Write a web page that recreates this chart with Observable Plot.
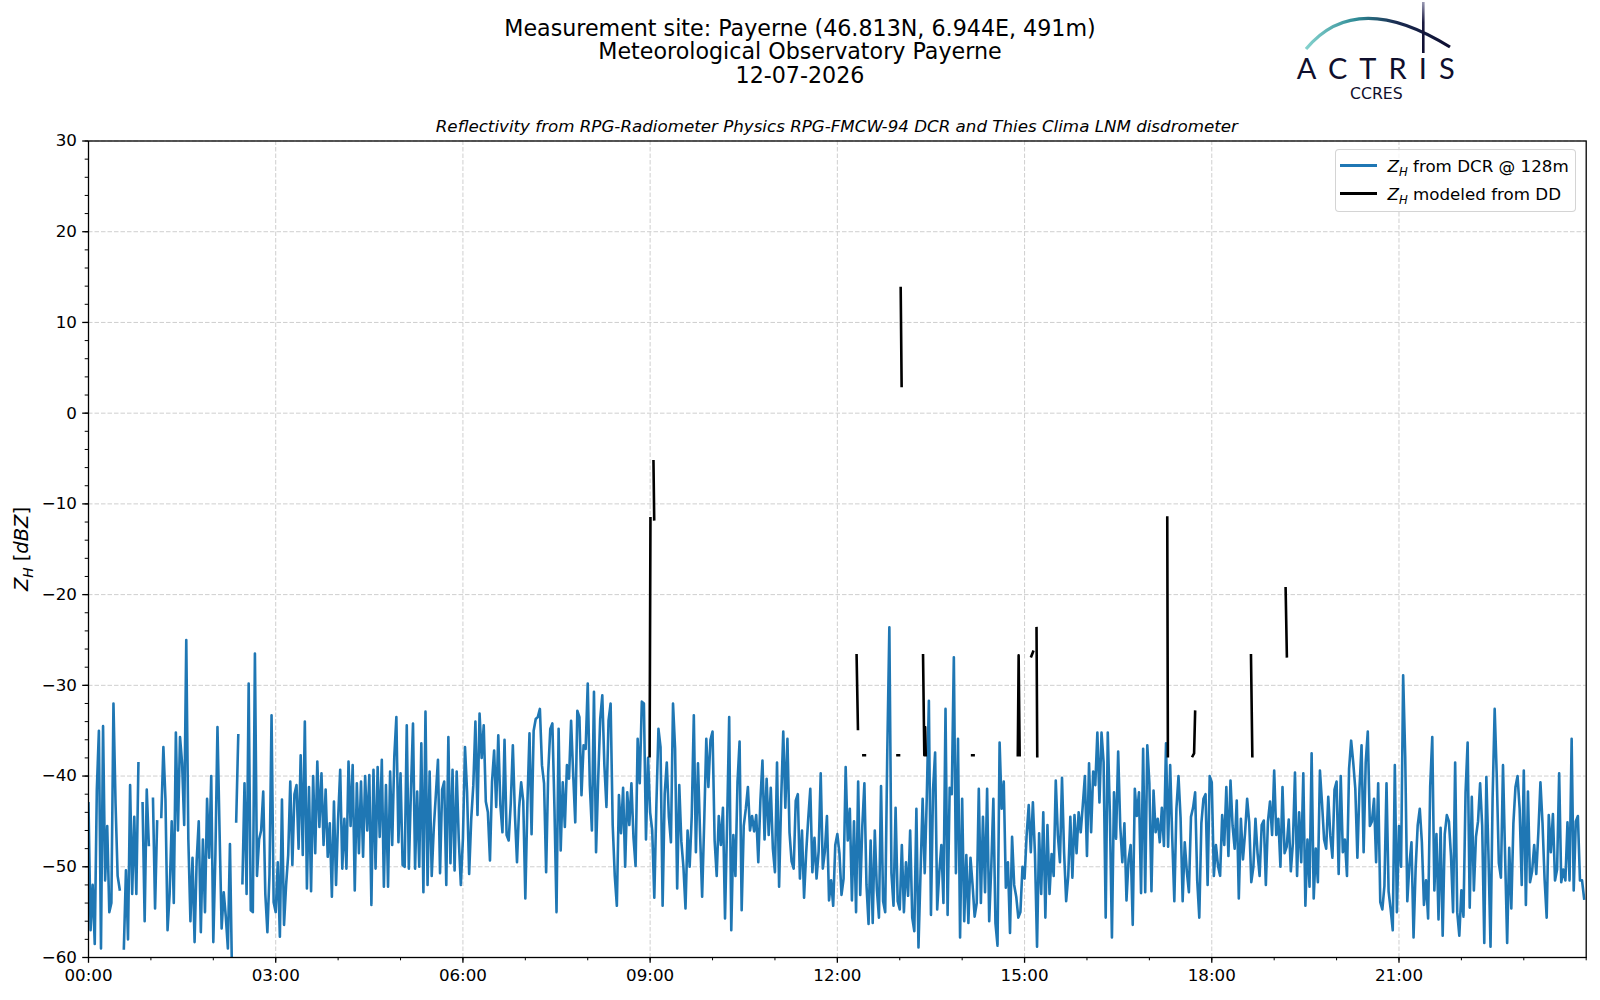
<!DOCTYPE html>
<html>
<head>
<meta charset="utf-8">
<script src="https://cdn.jsdelivr.net/npm/d3@7"></script>
<script src="https://cdn.jsdelivr.net/npm/@observablehq/plot@0.6"></script>
<style>
  body { margin: 0; background: #fff; font-family: "DejaVu Sans", sans-serif; color: #000; }
  #wrap { position: relative; width: 1600px; height: 1000px; overflow: hidden; background: #fff; }
  #header { position: relative; width: 1600px; height: 132px; z-index: 2; }
  .title { position: absolute; left: 0; top: 16.8px; width: 1600px; text-align: center; font-size: 22.2px; line-height: 23.5px; }
  .subtitle { position: absolute; left: 88px; width: 1497.7px; top: 115.5px; text-align: center; font-size: 16.7px; font-style: italic; line-height: 20px; white-space: nowrap; }
  #logo { position: absolute; left: 1250px; top: 0; }
  #ylabel { position: absolute; left: 23px; top: 549px; transform: translate(-50%, -50%) rotate(-90deg); font-size: 19.5px; white-space: nowrap; z-index: 3; }
  #ylabel sub, #legend sub { font-size: 0.7em; vertical-align: -0.3em; }
  #legend { position: absolute; left: 1335px; top: 148.5px; width: 241px; height: 63px; box-sizing: border-box; border: 1px solid rgba(204,204,204,0.85); border-radius: 4px; background: rgba(255,255,255,0.8); font-size: 16.7px; z-index: 3; }
  .lrow { position: absolute; left: 0; height: 20px; line-height: 20px; white-space: nowrap; }
  .lrow .swatch { position: absolute; left: 4px; top: 8.5px; width: 37px; height: 3px; }
  .lrow .ltxt { position: absolute; left: 51.5px; top: 0; }
  #chart { position: relative; z-index: 1; }
</style>
</head>
<body>
<div id="wrap">
  <div id="header">
    <div class="title">Measurement site: Payerne (46.813N, 6.944E, 491m)<br>Meteorological Observatory Payerne<br>12-07-2026</div>
    <svg id="logo" width="220" height="110" viewBox="1250 0 220 110">
      <defs>
        <linearGradient id="arcGrad" x1="1306" y1="0" x2="1450" y2="0" gradientUnits="userSpaceOnUse">
          <stop offset="0" stop-color="#84d2cd"/>
          <stop offset="0.35" stop-color="#2f8b96"/>
          <stop offset="0.62" stop-color="#1b2d52"/>
          <stop offset="1" stop-color="#0d0d30"/>
        </linearGradient>
        <linearGradient id="vGrad" x1="0" y1="2" x2="0" y2="53" gradientUnits="userSpaceOnUse">
          <stop offset="0" stop-color="#9a9ab4"/>
          <stop offset="0.4" stop-color="#1a1a40"/>
          <stop offset="1" stop-color="#0d0d30"/>
        </linearGradient>
      </defs>
      <path d="M1306,49 Q1356,-11.4 1450,47" fill="none" stroke="url(#arcGrad)" stroke-width="3.2"/>
      <line x1="1423.3" y1="2" x2="1423.3" y2="53" stroke="url(#vGrad)" stroke-width="2.6"/>
      <text x="1296.7" y="78.5" font-family="Lato, 'DejaVu Sans', sans-serif" font-size="29" fill="#0f0f2d" textLength="158" lengthAdjust="spacing">ACTRIS</text>
      <text x="1350" y="99.3" font-family="'DejaVu Sans', sans-serif" font-size="16.5" fill="#0f0f2d" textLength="52.7" lengthAdjust="spacingAndGlyphs">CCRES</text>
    </svg>
    <div class="subtitle">Reflectivity from RPG-Radiometer Physics RPG-FMCW-94 DCR and Thies Clima LNM disdrometer</div>
  </div>
  <div id="chart"></div>
  <div id="ylabel"><i>Z</i><sub><i>H</i></sub> [<i>dBZ</i>]</div>
  <div id="legend">
    <div class="lrow" style="top:6px"><div class="swatch" style="background:#1f77b4"></div><div class="ltxt"><i>Z</i><sub><i>H</i></sub> from DCR @ 128m</div></div>
    <div class="lrow" style="top:34px"><div class="swatch" style="background:#000"></div><div class="ltxt"><i>Z</i><sub><i>H</i></sub> modeled from DD</div></div>
  </div>
</div>
<script>
// ---- DCR reflectivity at 128 m, one value every 2 minutes, per 3-hour block (null = no data)
const dcrStepMinutes = 2;
const dcr0003 = [-43,-57,-52,-58.5,-41.5,-35,-59,-34.5,-51.5,-45.5,-55,-54,-32,-43,-51,-52.5,null,-59,-50.4,-58,
  -41,-53,-44.5,-53,-38.6,null,-43,-56,-41.5,-47.6,null,-42.5,-54.6,-45,null,-44.5,-36.8,-42.6,-57,-53,
  -45,-54,-35.2,-46,-35.7,-38.6,-45.4,-25,-47,-56,-49,-58.3,-49.3,-45,-57.2,-47,-55,-42.5,-49,-40,
  -58.3,-48.7,-34.6,-46,-56.8,-52.8,-55.5,-59,-47.5,-62,null,-45,-35.5,null,-51.8,-40.8,-53,-29.8,-54.8,-55,
  -26.5,-51,-47,-46,-41.7,-53,-57.2,-50.9,-33.3,-53.9];
const dcr0306 = [-55,-49.5,-57.7,-42.6,-56.4,-52,-48.7,-40.6,-49.8,-42,-41,-48,-37.7,-48.7,-34,-52.4,-41.2,-52.7,-40,-48.5,
  -38.4,-45.6,-39.7,-47.6,-41.5,-48.9,-45.2,-53.3,-42.8,-52,-44.7,-39.3,-50.2,-44.7,-50.2,-38.4,-45.5,-38.8,-52.6,-40.8,
  -48.5,-40.6,-48.9,-40,-46,-39.9,-54.2,-39.3,-50.2,-39,-46.7,-38.2,-52.2,-41,-52.2,-39.5,-47.6,-37.9,-33.5,-47.3,
  -39.7,-49.8,-50,-34.4,-50.2,-41.7,-34.2,-50.2,-41.7,-50,-36.4,-52.8,-32.9,-52,-39.5,-51,-45.7,-42,-38.2,-50.7,
  -41.5,-40.6,-52,-35.7,-49.6,-39.3,-50.4,-39.5,-47,-52];
const dcr0609 = [-46.9,-36.8,-41.8,-50.8,-44.7,-41,-34,-44.3,-33.1,-38,-34.4,-42.8,-44,-49.3,-40.6,-37.2,-43.4,-35.5,-43.2,-46.2,
  -36,-46.5,-47.1,-43,-36.6,-44.3,-49.5,-43.5,-40.7,-42.8,-53.5,-43,-35.3,-46.4,-35,-33.7,-33.5,-32.6,-38.8,-40.8,
  -50.6,-39.6,-34.8,-34.2,-43.5,-55,-34.8,-48.2,-40.7,-45.6,-38.8,-40.3,-33.9,-39.8,-45.1,-32.8,-33.5,-42.1,-36.6,-37,
  -29.8,-41,-46,-30.7,-48.4,-40.5,-33.7,-31.1,-38.8,-43.4,-33.9,-32,-45.4,-51,-54.3,-42.1,-46.3,-41.3,-50,-41.8,
  -45.4,-40.8,-46.8,-49.9,-35.9,-40.8,-31.8,-32,-47,-38];
const dcr0912 = [-44,-46,-53.4,-43.2,-34.8,-36.8,-54.3,-42,-38.5,-44.5,-47.3,-32,-37,-52.4,-41,-47.2,-50,-54.6,-46,-50,
  -44.4,-33.3,-48.4,-38.6,-46.3,-53.3,-45,-35.9,-41.2,-36,-35.1,-47.1,-51,-44.4,-47.6,-43.5,-55.7,-45.2,-33.5,-57,
  -46.5,-51,-40.7,-36.2,-54.8,-45.5,-43.6,-41.2,-46,-44.4,-46.1,-44.3,-49.5,-42.7,-38.3,-47,-40.3,-46.5,-41.3,-48,
  -50.6,-38.5,-52.2,-42.5,-35.1,-43.5,-35.9,-46.2,-49.4,-50.2,-42.7,-42,-51.3,-46,-53.4,-48.5,-44.7,-41.4,-50.6,-46.8,
  -51.3,-48.3,-39.7,-50.2,-48.3,-44.4,-53.7,-51.5,-54.3,-47.6];
const dcr1215 = [-46.4,-48.5,-53.1,-51.3,-39,-47.1,-43.6,-53.7,-45,-55,-40.6,-53.1,-45.5,-40.8,-52,-56.3,-47.1,-56.2,-46,-52.5,
  -55.6,-41.1,-53.8,-55,-37.4,-23.6,-50.7,-54.3,-43.5,-53.8,-54.7,-47.6,-55,-49.5,-53.2,-46,-55.6,-57.1,-43.6,-58.9,
  -50.6,-42.5,-50.7,-42.3,-31.7,-55.3,-41.5,-37.4,-54.7,-50.6,-47.6,-54,-32.6,-55.3,-41.3,-42,-26.9,-50.7,-35.9,-57.8,
  -42.5,-56,-48.7,-56.2,-49,-52,-55.5,-54,-41.4,-54,-44.5,-52.8,-41.4,-56,-50,-42.5,-56.2,-58.7,-36.3,-43.6,
  -40.6,-52.3,-49.5,-57.3,-46.7,-52,-53.3,-55.6,-55,-50];
const dcr1518 = [-51.3,-46.5,-43.2,-48.4,-42.9,-48.6,-58.8,-46.3,-53,-44,-55.6,-45.4,-53,-48.6,-51,-40.5,-46.5,-49.5,-40.2,-48.4,
  -53.8,-51,-44.5,-51.2,-44.3,-48.5,-44,-46.2,-43.2,-40,-48.8,-38.6,-46.2,-39.5,-41,-35.2,-42.9,-35.2,-38.5,-55.6,
  -35.2,-44,-57.8,-41.8,-46.9,-37.3,-45.5,-49.5,-45.2,-53.7,-49.2,-47.6,-56.4,-41.4,-44.4,-41.8,-52.9,-37,-52.8,-36.6,
  -40.8,-52.7,-41.6,-46.2,-44.7,-47.3,-43.5,-47.7,-36.4,-47.8,-38.8,-46.9,-53.8,-43.6,-40,-44.6,-53.8,-47.3,-50.5,-52.8,
  -44.5,-43.5,-41.8,-51.5,-55.6,-45.2,-42.5,-42,-52,-40];
const dcr1821 = [-40.7,-51,-47.6,-49.9,-51,-44.3,-47.6,-41.2,-48.8,-40.5,-45.5,-48,-42.7,-53.5,-44.7,-49.2,-46.3,-42.5,-45.1,-51.7,
  -50,-44.7,-48.5,-51,-45.4,-44.9,-52,-45,-42.8,-46.5,-39.4,-46.5,-44.7,-50,-41.2,-48.5,-47.8,-44.8,-50.5,-47.4,
  -39.6,-51,-44,-49.5,-39.7,-54.3,-47,-52.2,-37.5,-53.5,-48,-51.7,-39.4,-43,-47,-48,-42.3,-46.6,-49,-41.5,
  -40.6,-50.8,-40,-48.4,-47,-51,-39.2,-36.1,-38.5,-41.4,-49,-41.4,-36.6,-48.4,-38.5,-35.1,-45.5,-45,-42.5,-49.5,
  -40.8,-53.9,-54.7,-52.1,-40.8,-52.7,-54.7,-57,-38.8,-55];
const dcr2124 = [-45.5,-50,-28.9,-37.9,-53.8,-49.8,-47.3,-57.8,-50.2,-45.4,-43.6,-47.3,-54.2,-51.5,-55.7,-41.1,-35.7,-52.6,-46.4,-55.8,
  -45.7,-57.6,-46.4,-44.3,-45,-48.8,-55,-38.5,-55,-57.6,-52.6,-55.5,-41.8,-36.3,-54.5,-42.3,-52.6,-46.7,-45,-40.8,
  -45.5,-58.4,-40.1,-48.5,-58.8,-42.5,-32.6,-40,-49.6,-51.2,-38.8,-48.7,-58.4,-47.9,-54.6,-45.2,-41.2,-40,-43.6,-52,
  -39.4,-54.2,-41.7,-51.7,-50.5,-47.6,-50.8,-46.2,-40.7,-45.2,-51.4,-55.6,-44.3,-48.4,-44.2,-51.5,-50.3,-39.7,-51.7,-50.3,
  -51.5,-45.1,-51.5,-35.9,-52.6,-45,-44.4,-51.5,-51.5,-53.5];

// ---- Z modeled from disdrometer (minutes since 00:00, value; null = gap)
const ddMinute = [539.5,540.3,541, 543.2,543.9,544.5, 738.5,739.8,742, 745,746.5,760, 777.8,779.3,780, 780.9,781.8,790,
  802.4,803.6,804.4,805.0,820, 849.6,851,870, 893.5,894.3,895.3,900, 906.5,908.2,910, 911.5,912.2,1000,
  1037.2,1037.8,1050, 1061.6,1063,1064,1090, 1117.7,1119,1130, 1151,1152.2];
const ddValue = [-37.8,-11.6,null, -5.3,-11.7,null, -26.7,-34.8,null, -37.7,-37.7,null, -37.7,-37.7,null, 13.8,3.0,null,
  -26.7,-37.7,-34.6,-37.7,null, -37.7,-37.7,null, -37.7,-26.7,-37.7,null, -26.8,-26.3,null, -23.7,-37.8,null,
  -11.5,-37.8,null, -37.8,-37.5,-32.9,null, -26.7,-37.8,null, -19.3,-26.8];

// ---- axis ticks
const xMajorHours = [0, 3, 6, 9, 12, 15, 18, 21];
const xMinorHours = d3.range(0, 25, 1);
const yMajor = [-60, -50, -40, -30, -20, -10, 0, 10, 20, 30];
const yMinor = d3.range(-60, 31, 2);

const dcrBlocks = [dcr0003, dcr0306, dcr0609, dcr0912, dcr1215, dcr1518, dcr1821, dcr2124];
const dcr = dcrBlocks.flatMap((arr, b) => arr.map((v, i) => ({t: 3 * b + i * dcrStepMinutes / 60, v})));
const dd = ddMinute.map((m, i) => ({t: m / 60, v: ddValue[i]}));

const fmtTime = h => String(h).padStart(2, "0") + ":00";
const fmtY = v => v < 0 ? "\u2212" + Math.abs(v) : String(v);
const gridStyle = {stroke: "#cfcfcf", strokeOpacity: 1, strokeWidth: 1, strokeDasharray: "4.5,2"};

const chart = Plot.plot({
  width: 1600,
  height: 868,
  marginTop: 8.5,
  marginBottom: 43,
  marginLeft: 88,
  marginRight: 14.3,
  style: {fontFamily: "'DejaVu Sans', sans-serif", fontSize: "16.7px", color: "black", background: "transparent", overflow: "visible"},
  x: {domain: [0, 24], label: null},
  y: {domain: [-60, 30], label: null},
  marks: [
    Plot.gridX(xMajorHours, gridStyle),
    Plot.gridY(yMajor, gridStyle),
    Plot.line(dcr, {x: "t", y: "v", stroke: "#1f77b4", strokeWidth: 2.6, strokeLinejoin: "round", strokeLinecap: "square", clip: true}),
    Plot.line(dd, {x: "t", y: "v", stroke: "black", strokeWidth: 2.6, strokeLinejoin: "round", strokeLinecap: "square", clip: true}),
    Plot.frame({stroke: "black", strokeWidth: 1.3}),
    Plot.axisX(xMajorHours, {tickSize: 5.8, tickPadding: 5.8, tickFormat: fmtTime, strokeWidth: 1.3, label: null}),
    Plot.axisX(xMinorHours, {tickSize: 3.3, tickFormat: () => "", strokeWidth: 1, label: null}),
    Plot.axisY(yMajor, {tickSize: 5.8, tickPadding: 5.8, tickFormat: fmtY, strokeWidth: 1.3, label: null}),
    Plot.axisY(yMinor, {tickSize: 3.3, tickFormat: () => "", strokeWidth: 1, label: null})
  ]
});
document.getElementById("chart").appendChild(chart);
</script>
</body>
</html>
